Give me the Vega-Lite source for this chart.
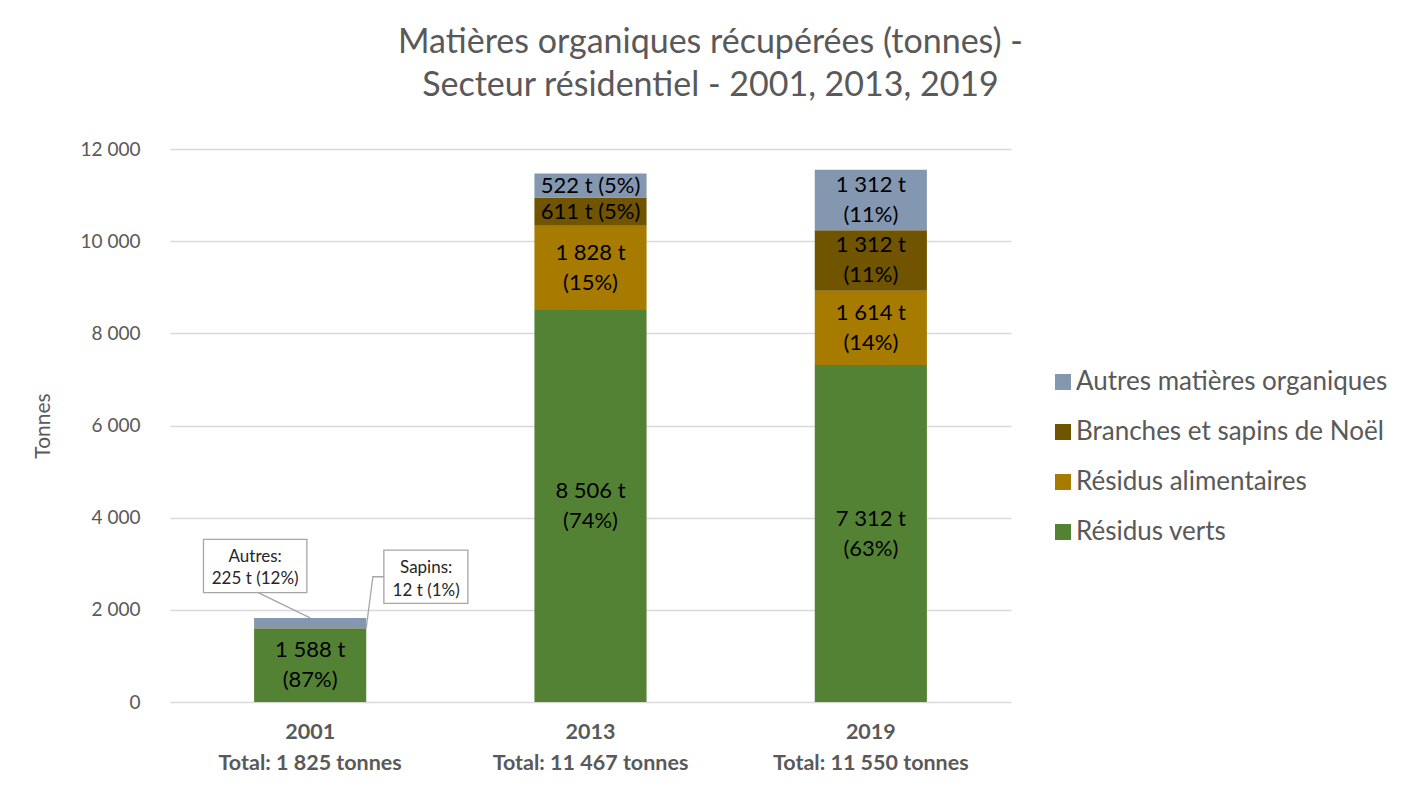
{
  "$schema": "https://vega.github.io/schema/vega-lite/v6.json",
  "width": 841,
  "height": 553,
  "autosize": "none",
  "padding": {"left": 170, "top": 149, "right": 410, "bottom": 86},
  "background": "white",
  "config": {
    "view": {"stroke": null},
    "font": "Lato",
    "text": {"font": "Lato"}
  },
  "title": {
    "text": ["Matières organiques récupérées (tonnes) -", "Secteur résidentiel - 2001, 2013, 2019"],
    "font": "Lato",
    "fontSize": 34,
    "fontWeight": "normal",
    "color": "#595959",
    "lineHeight": 43,
    "anchor": "middle",
    "frame": "group",
    "dx": 120,
    "offset": 37
  },
  "datasets": {
    "main": [
      {"year": "2001", "category": "Résidus verts", "tonnes": 1588, "label": "1 588 t\n(87%)"},
      {"year": "2001", "category": "Résidus alimentaires", "tonnes": 0, "label": ""},
      {"year": "2001", "category": "Branches et sapins de Noël", "tonnes": 12, "label": ""},
      {"year": "2001", "category": "Autres matières organiques", "tonnes": 225, "label": ""},
      {"year": "2013", "category": "Résidus verts", "tonnes": 8506, "label": "8 506 t\n(74%)"},
      {"year": "2013", "category": "Résidus alimentaires", "tonnes": 1828, "label": "1 828 t\n(15%)"},
      {"year": "2013", "category": "Branches et sapins de Noël", "tonnes": 611, "label": "611 t (5%)"},
      {"year": "2013", "category": "Autres matières organiques", "tonnes": 522, "label": "522 t (5%)"},
      {"year": "2019", "category": "Résidus verts", "tonnes": 7312, "label": "7 312 t\n(63%)"},
      {"year": "2019", "category": "Résidus alimentaires", "tonnes": 1614, "label": "1 614 t\n(14%)"},
      {"year": "2019", "category": "Branches et sapins de Noël", "tonnes": 1312, "label": "1 312 t\n(11%)"},
      {"year": "2019", "category": "Autres matières organiques", "tonnes": 1312, "label": "1 312 t\n(11%)"}
    ],
    "callouts": [
      {"year": "2001", "kind": "autres", "anchor": 1825, "label": "Autres:\n225 t (12%)"},
      {"year": "2001", "kind": "sapins", "anchor": 1594, "label": "Sapins:\n12 t (1%)"}
    ]
  },
  "encoding": {
    "x": {
      "field": "year",
      "type": "nominal",
      "sort": ["2001", "2013", "2019"],
      "scale": {"domain": ["2001", "2013", "2019"], "paddingInner": 0.6, "paddingOuter": 0.3},
      "axis": {
        "title": null,
        "domain": false,
        "ticks": false,
        "labelAngle": 0,
        "labelFont": "Lato",
        "labelFontSize": 21.5,
        "labelFontWeight": "bold",
        "labelColor": "#595959",
        "labelPadding": 19,
        "labelLineHeight": 31,
        "labelBaseline": "top",
        "labelLimit": 400,
        "labelExpr": "datum.value == '2001' ? ['2001', 'Total: 1 825 tonnes'] : datum.value == '2013' ? ['2013', 'Total: 11 467 tonnes'] : ['2019', 'Total: 11 550 tonnes']"
      }
    }
  },
  "layer": [
    {
      "data": {"name": "main"},
      "transform": [
        {"stack": "tonnes", "groupby": ["year"], "sort": [{"field": "category", "order": "descending"}], "as": ["y0", "y1"]}
      ],
      "mark": {"type": "bar"},
      "encoding": {
        "y": {
          "field": "y0",
          "type": "quantitative",
          "scale": {"domain": [0, 12000], "nice": false},
          "axis": {
            "title": "Tonnes",
            "titleFont": "Lato",
            "titleFontSize": 21,
            "titleFontWeight": "normal",
            "titleColor": "#595959",
            "titlePadding": 27,
            "values": [0, 2000, 4000, 6000, 8000, 10000, 12000],
            "labelExpr": "replace(format(datum.value, ','), ',', ' ')",
            "labelFont": "Lato",
            "labelFontSize": 19,
            "labelColor": "#595959",
            "labelPadding": 30,
            "domain": false,
            "ticks": false,
            "grid": true,
            "gridColor": "#D9D9D9",
            "gridWidth": 1.5
          }
        },
        "y2": {"field": "y1"},
        "color": {
          "field": "category",
          "type": "nominal",
          "scale": {
            "domain": ["Autres matières organiques", "Branches et sapins de Noël", "Résidus alimentaires", "Résidus verts"],
            "range": ["#8497B0", "#705400", "#A67B00", "#548235"]
          },
          "legend": {
            "title": null,
            "orient": "none",
            "legendX": 880,
            "legendY": 220,
            "symbolType": "square",
            "symbolSize": 256,
            "symbolStrokeWidth": 0,
            "labelFont": "Lato",
            "labelFontSize": 26,
            "labelColor": "#595959",
            "labelOffset": 0,
            "labelLimit": 500,
            "rowPadding": 24,
            "padding": 0
          }
        }
      }
    },
    {
      "data": {"name": "main"},
      "transform": [
        {"stack": "tonnes", "groupby": ["year"], "sort": [{"field": "category", "order": "descending"}], "as": ["y0", "y1"]},
        {"calculate": "(datum.y0 + datum.y1) / 2", "as": "ymid"},
        {"filter": "indexof(datum.label, '\\n') >= 0"}
      ],
      "mark": {"type": "text", "fontSize": 22, "color": "#000000", "lineBreak": "\n", "lineHeight": 30, "align": "center", "baseline": "middle", "dy": -15},
      "encoding": {
        "y": {"field": "ymid", "type": "quantitative"},
        "text": {"field": "label"}
      }
    },
    {
      "data": {"name": "main"},
      "transform": [
        {"stack": "tonnes", "groupby": ["year"], "sort": [{"field": "category", "order": "descending"}], "as": ["y0", "y1"]},
        {"calculate": "(datum.y0 + datum.y1) / 2", "as": "ymid"},
        {"filter": "indexof(datum.label, '\\n') < 0"}
      ],
      "mark": {"type": "text", "fontSize": 22, "color": "#000000", "align": "center", "baseline": "middle"},
      "encoding": {
        "y": {"field": "ymid", "type": "quantitative"},
        "text": {"field": "label"}
      }
    },
    {
      "data": {"name": "callouts"},
      "transform": [{"filter": "datum.kind == 'autres'"}],
      "mark": {"type": "point", "filled": true, "fill": "white", "stroke": "#A6A6A6", "strokeWidth": 1.3, "opacity": 1, "size": 40000,
        "shape": "M-1.067,-0.786H-0.033V-0.252H-1.067Z"},
      "encoding": {"y": {"field": "anchor", "type": "quantitative"}}
    },
    {
      "data": {"name": "callouts"},
      "transform": [{"filter": "datum.kind == 'autres'"}],
      "mark": {"type": "point", "filled": false, "stroke": "#A6A6A6", "strokeWidth": 1.3, "opacity": 1, "size": 40000,
        "shape": "M-0.52,-0.252L0,0"},
      "encoding": {"y": {"field": "anchor", "type": "quantitative"}}
    },
    {
      "data": {"name": "callouts"},
      "transform": [{"filter": "datum.kind == 'sapins'"}],
      "mark": {"type": "point", "filled": true, "fill": "white", "stroke": "#A6A6A6", "strokeWidth": 1.3, "opacity": 1, "size": 40000,
        "shape": "M0.737,-0.785H1.577V-0.252H0.737Z"},
      "encoding": {"y": {"field": "anchor", "type": "quantitative"}}
    },
    {
      "data": {"name": "callouts"},
      "transform": [{"filter": "datum.kind == 'sapins'"}],
      "mark": {"type": "point", "filled": false, "stroke": "#A6A6A6", "strokeWidth": 1.3, "opacity": 1, "size": 40000,
        "shape": "M0.737,-0.518H0.627L0.56,0"},
      "encoding": {"y": {"field": "anchor", "type": "quantitative"}}
    },
    {
      "data": {"name": "callouts"},
      "transform": [{"filter": "datum.kind == 'autres'"}],
      "mark": {"type": "text", "fontSize": 17, "color": "#262626", "lineBreak": "\n", "lineHeight": 22, "align": "center", "baseline": "middle", "dx": -55, "dy": -61},
      "encoding": {"y": {"field": "anchor", "type": "quantitative"}, "text": {"field": "label"}}
    },
    {
      "data": {"name": "callouts"},
      "transform": [{"filter": "datum.kind == 'sapins'"}],
      "mark": {"type": "text", "fontSize": 17, "color": "#262626", "lineBreak": "\n", "lineHeight": 23, "align": "center", "baseline": "middle", "dx": 116, "dy": -61},
      "encoding": {"y": {"field": "anchor", "type": "quantitative"}, "text": {"field": "label"}}
    }
  ]
}
